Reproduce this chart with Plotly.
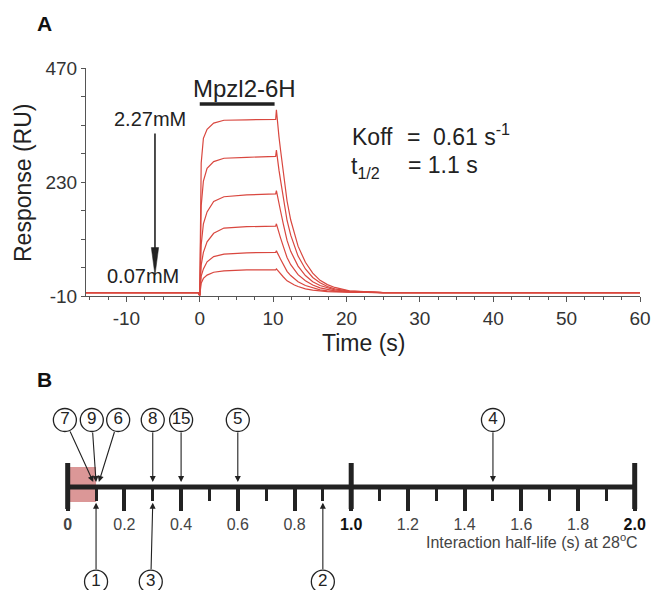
import plotly.graph_objects as go

# ---------------- data: panel A (SPR sensorgrams) ----------------
time_s = [-15.5, -0.2, 0.0, 0.05, 0.2, 0.5, 1.0, 1.9, 3.3, 6.4, 10.35, 10.45,
          10.6, 10.8, 11.0, 11.4, 11.9, 12.4, 12.9, 13.4, 14.4, 15.4, 16.4,
          17.4, 18.4, 20.4, 25, 30, 40, 50, 60]

resp_227mM = [-3, -3, -9, 60, 270, 322, 341, 354, 360, 361, 362, 382,
              350, 325, 299, 248, 190, 150, 121, 95, 61, 38, 23, 14, 8, 1, -3, -3, -3, -3, -3]
resp_c2 = [-3, -3, -9, 40, 180, 232, 259, 273, 280, 282, 284, 297,
           275, 255, 235, 195, 149, 118, 95, 74, 47, 29, 18, 10, 5, 0.4, -3, -3, -3, -3, -3]
resp_c3 = [-3, -3, -9, 25, 98, 142, 167, 189, 199, 203, 205, 212,
           199, 184, 170, 141, 107, 84, 68, 53, 33, 20, 12, 7, 3, -0.5, -3, -3, -3, -3, -3]
resp_c4 = [-3, -3, -9, 12, 55, 82, 104, 122, 133, 136, 137, 142,
           133, 123, 113, 94, 71, 56, 45, 35, 22, 13, 7, 3.4, 1, -1.3, -3, -3, -3, -3, -3]
resp_c5 = [-3, -3, -9, 6, 32, 47, 62, 73, 78, 81, 82, 85,
           79, 74, 68, 56, 42, 33, 26, 20, 12, 7, 3, 1, -0.5, -2, -3, -3, -3, -3, -3]
resp_007mM = [-3, -3, -9, 2, 17, 27, 34, 40, 43, 45, 45, 47,
              44, 40, 37, 30, 22, 17, 13, 10, 5, 2.4, 0.5, -0.8, -1.6, -2.4, -3, -3, -3, -3, -3]
curves = [resp_227mM, resp_c2, resp_c3, resp_c4, resp_c5, resp_007mM]

injection = [0, 10.2]            # Mpzl2-6H injection bar (s)
x_tick_vals = [-10, 0, 10, 20, 30, 40, 50, 60]
x_tick_text = ["-10", "0", "10", "20", "30", "40", "50", "60"]
y_tick_vals = [-10, 50, 110, 170, 230, 290, 350, 410, 470]
y_tick_text = ["-10", "", "", "", "230", "", "", "", "470"]

# ---------------- data: panel B (half-life scale) ----------------
hl_labels = ["7", "9", "6", "8", "15", "5", "4", "1", "3", "2"]
hl_values = [0.09, 0.10, 0.11, 0.30, 0.40, 0.60, 1.50, 0.10, 0.30, 0.90]
hl_side = ["top", "top", "top", "top", "top", "top", "top", "bottom", "bottom", "bottom"]
hl_label_x = [-0.01, 0.085, 0.178, 0.30, 0.40, 0.60, 1.50, 0.10, 0.293, 0.90]
scale_ticks = [0, 0.2, 0.4, 0.6, 0.8, 1.0, 1.2, 1.4, 1.6, 1.8, 2.0]
scale_tick_text = ["<b>0</b>", "0.2", "0.4", "0.6", "0.8",
                   "<b><span style='color:#111'>1.0</span></b>",
                   "1.2", "1.4", "1.6", "1.8",
                   "<b><span style='color:#111'>2.0</span></b>"]
scale_minor_ticks = [0.1, 0.3, 0.5, 0.7, 0.9, 1.1, 1.3, 1.5, 1.7, 1.9]
decade_marks = [0, 1.0, 2.0]
fast_zone = [0, 0.1]

# ---------------- layout helpers ----------------
OFF = 0          # page body margin is removed below, figure starts at (0, 0)
W, H = 652, 590
FONT = "Liberation Sans, Arial, sans-serif"
INK = "#222222"
RED = "#d9473f"


def px(x):
    return (x - OFF) / W


def py(y):
    return 1 - (y - OFF) / H


fig = go.Figure()

for c in curves:
    fig.add_trace(go.Scatter(x=time_s, y=c, mode="lines",
                             line=dict(color=RED, width=1.2),
                             xaxis="x", yaxis="y", showlegend=False,
                             hoverinfo="skip"))

# panel B circled labels (y2 unit = 1 px above the scale line)
line_y = 487
top_circle, bot_circle = line_y - 420, line_y - 581.7
top_tip, bot_tip = line_y - 482, line_y - 502.7
cy = [top_circle if s == "top" else bot_circle for s in hl_side]
fig.add_trace(go.Scatter(
    x=hl_label_x, y=cy, mode="markers+text", text=hl_labels,
    textposition="middle center",
    textfont=dict(family=FONT, size=17, color=INK),
    marker=dict(symbol="circle", size=23, color="white",
                line=dict(color=INK, width=1.3)),
    xaxis="x2", yaxis="y2", showlegend=False, cliponaxis=False,
    hoverinfo="skip"))

annotations = []
for lab, v, s, lx, c in zip(hl_labels, hl_values, hl_side, hl_label_x, cy):
    annotations.append(dict(
        x=v, y=top_tip if s == "top" else bot_tip, xref="x2", yref="y2",
        ax=lx, ay=c, axref="x2", ayref="y2", text="", showarrow=True,
        arrowhead=2, arrowsize=1.1, arrowwidth=1.1, arrowcolor=INK,
        startstandoff=11, standoff=0))

shapes = []
shapes.append(dict(type="rect", xref="x2", yref="y2", x0=fast_zone[0], x1=fast_zone[1],
                   y0=-15, y1=20, fillcolor="rgba(200,95,95,0.65)",
                   line=dict(width=0), layer="below"))
shapes.append(dict(type="line", xref="x2", yref="y2", x0=decade_marks[0],
                   x1=decade_marks[-1], y0=0, y1=0, line=dict(color=INK, width=5)))
for m in decade_marks:
    shapes.append(dict(type="line", xref="x2", yref="y2", x0=m, x1=m, y0=-22, y1=24,
                       line=dict(color=INK, width=5)))

# injection bar
shapes.append(dict(type="line", xref="x", yref="y", x0=injection[0], x1=injection[1],
                   y0=394, y1=394, line=dict(color=INK, width=3.5)))
# concentration arrow
arrow_t = -6.1
shapes.append(dict(type="line", xref="x", yref="y", x0=arrow_t, x1=arrow_t,
                   y0=332, y1=88, line=dict(color=INK, width=1.6)))
shapes.append(dict(type="path", xref="x", yref="y",
                   path=f"M {arrow_t-0.5} 92 L {arrow_t+0.5} 92 L {arrow_t} 34 Z",
                   fillcolor=INK, line=dict(color=INK, width=0.5)))


def txt(t, x, y, size, xanchor="center", angle=0, bold=False, color=INK):
    annotations.append(dict(text=f"<b>{t}</b>" if bold else t, x=px(x), y=py(y),
                            xref="paper", yref="paper", showarrow=False,
                            xanchor=xanchor, yanchor="middle", textangle=angle,
                            font=dict(family=FONT, size=size, color=color)))


txt("A", 44.5, 23.5, 21, bold=True, color="#111")
txt("B", 44.5, 380, 21, bold=True, color="#111")
txt("Mpzl2-6H", 244, 89, 24)
txt("2.27mM", 149.7, 119, 20)
txt("0.07mM", 143.3, 276, 20)
txt("Koff", 350, 137, 23, xanchor="left")
txt("=", 405, 137, 23, xanchor="left")
txt("0.61 s<sup>-1</sup>", 431, 135, 23, xanchor="left")
txt("t<sub>1/2</sub>", 349, 168, 23, xanchor="left")
txt("= 1.1 s", 406, 165, 23, xanchor="left")
txt("Response (RU)", 23, 183, 23, angle=-90)
txt("Time (s)", 363, 343, 23)
annotations.append(dict(text="Interaction half-life (s) at 28<sup>o</sup>C",
                        x=px(640), y=py(541), xref="paper", yref="paper",
                        showarrow=False, xanchor="right", yanchor="middle",
                        font=dict(family=FONT, size=16, color="#444")))

x2_lo, x2_hi = -0.1, 2.04
x2_px0, x2_scale = 67.7, 283.5
fig.update_layout(
    width=W, height=H, margin=dict(l=0, r=0, t=0, b=0, autoexpand=False),
    paper_bgcolor="white", plot_bgcolor="white", showlegend=False,
    xaxis=dict(domain=[px(86), px(640)], range=[-15.5, 60], anchor="y",
               automargin=False,
               showgrid=False, zeroline=False, showline=True, linecolor="#555",
               linewidth=1, ticks="outside", ticklen=5, tickwidth=1, tickcolor="#555",
               tickmode="array", tickvals=x_tick_vals, ticktext=x_tick_text,
               minor=dict(dtick=2.5, tick0=0, ticks="outside", ticklen=3,
                          tickwidth=1, tickcolor="#555"),
               tickfont=dict(family=FONT, size=19, color="#333")),
    yaxis=dict(domain=[py(296), py(68)], range=[-10, 470], anchor="x",
               automargin=False,
               showgrid=False, zeroline=False, showline=True, linecolor="#555",
               linewidth=1, ticks="outside", ticklen=4, tickwidth=1, tickcolor="#555",
               tickmode="array", tickvals=y_tick_vals, ticktext=y_tick_text,
               tickfont=dict(family=FONT, size=19, color="#333")),
    xaxis2=dict(domain=[px(x2_px0 + x2_lo * x2_scale), px(x2_px0 + x2_hi * x2_scale)],
                range=[x2_lo, x2_hi], anchor="free", automargin=False,
                position=py(line_y), showgrid=False, zeroline=False,
                showline=False,
                ticks="outside", ticklen=23, tickwidth=4, tickcolor=INK,
                tickmode="array", tickvals=scale_ticks, ticktext=scale_tick_text,
                minor=dict(tickmode="array", tickvals=scale_minor_ticks,
                           ticks="outside", ticklen=13, tickwidth=3, tickcolor=INK),
                tickfont=dict(family=FONT, size=16, color="#444")),
    yaxis2=dict(domain=[0, py(395)],
                range=[-(590 - line_y), line_y - 395],
                anchor="x2", visible=False, automargin=False),
    shapes=shapes, annotations=annotations,
)

fig.write_html("out.html",
               config={"displayModeBar": False},
               post_script="document.body.style.margin='0';"
                           "document.body.style.overflow='hidden';")
